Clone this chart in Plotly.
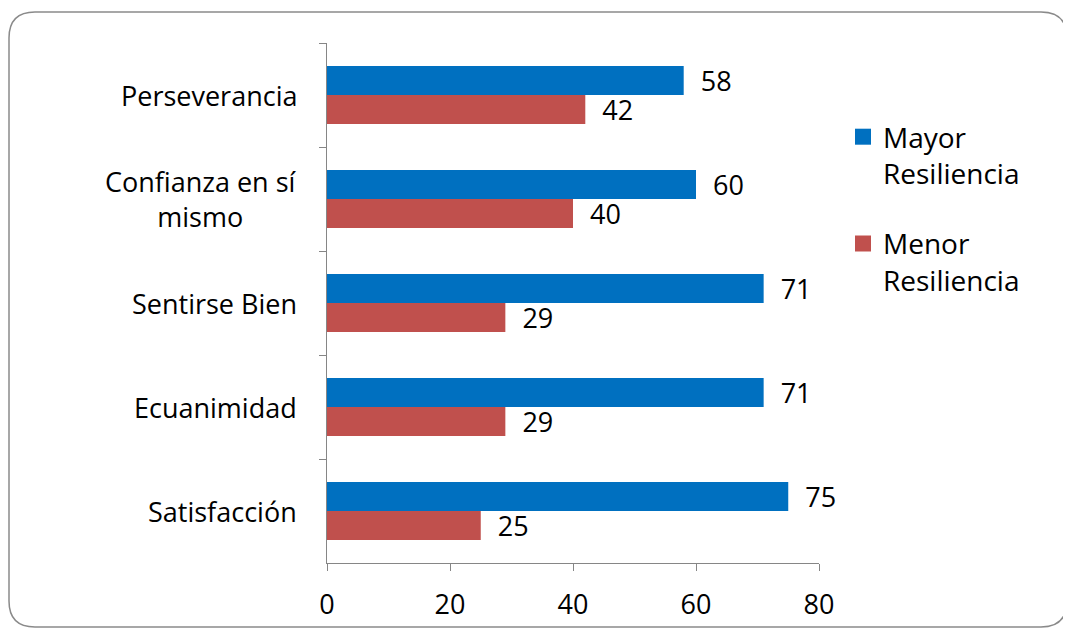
import plotly.graph_objects as go

categories = ["Perseverancia", "Confianza en sí<br>mismo", "Sentirse Bien", "Ecuanimidad", "Satisfacción"]
mayor = [58, 60, 71, 71, 75]
menor = [42, 40, 29, 29, 25]
series_names = ["Mayor<br>Resiliencia", "Menor<br>Resiliencia"]
x_ticks = [0, 20, 40, 60, 80]

BLUE = "#0070C0"
RED = "#C0504D"
FONT = "Open Sans"
FS = 27
# page body has an 8px margin, so the figure is drawn 8px in from the window edge
W, H = 1063, 622
L, R, T, B = 319, 252, 35, 67
PW, PH = W - L - R, H - T - B

fig = go.Figure()
for name, vals, col in [(series_names[0], mayor, BLUE), (series_names[1], menor, RED)]:
    fig.add_trace(go.Bar(
        y=categories, x=vals, name=name, orientation="h",
        marker=dict(color=col, line=dict(width=0)),
        text=vals, texttemplate="\u00a0\u00a0%{x}", textposition="outside",
        textfont=dict(family=FONT, size=FS, color="black"),
        constraintext="none", cliponaxis=False, showlegend=False,
    ))
# legend entries with larger square swatches
for name, col in [(series_names[0], BLUE), (series_names[1], RED)]:
    fig.add_trace(go.Scatter(
        x=[None], y=[None], mode="markers", name=name, legendgroup=name,
        marker=dict(symbol="square", size=17, color=col),
    ))

def px(x):
    return (x - L) / PW

def py(y):
    return (H - B - y) / PH

# rounded border
x0, x1, y0, y1, r = 1, 1059, 4, 619, 26
path = (f"M {px(x0 + r)},{py(y0)} L {px(x1 - r)},{py(y0)} Q {px(x1)},{py(y0)} {px(x1)},{py(y0 + r)} "
        f"L {px(x1)},{py(y1 - r)} Q {px(x1)},{py(y1)} {px(x1 - r)},{py(y1)} "
        f"L {px(x0 + r)},{py(y1)} Q {px(x0)},{py(y1)} {px(x0)},{py(y1 - r)} "
        f"L {px(x0)},{py(y0 + r)} Q {px(x0)},{py(y0)} {px(x0 + r)},{py(y0)} Z")
fig.add_shape(type="path", path=path, xref="paper", yref="paper",
              line=dict(color="#8a8a8a", width=1.5), layer="below")

# category labels (centered multi-line)
for c in categories:
    fig.add_annotation(x=0, xref="paper", y=c, yref="y", text=c, showarrow=False,
                       xanchor="right", xshift=-28, align="center",
                       font=dict(family=FONT, size=FS, color="black"))

fig.update_layout(
    width=W, height=H,
    margin=dict(l=L, r=R, t=T, b=B, autoexpand=False),
    paper_bgcolor="white", plot_bgcolor="white",
    barmode="group", bargap=0.44, bargroupgap=0,
    font=dict(family=FONT, size=FS, color="black"),
    legend=dict(x=px(835), xanchor="left", y=py(104), yanchor="top",
                font=dict(family=FONT, size=FS + 1), tracegroupgap=31,
                valign="top", bgcolor="rgba(0,0,0,0)"),
    xaxis=dict(range=[0, 80], tickvals=x_ticks, showgrid=False, zeroline=False,
               showline=True, linecolor="#868686", linewidth=1.3,
               ticks="outside", ticklen=7, tickcolor="#868686",
               tickfont=dict(family=FONT, size=FS), ticklabelstandoff=10),
    yaxis=dict(autorange="reversed", showgrid=False, zeroline=False,
               showline=True, linecolor="#868686", linewidth=1.3,
               ticks="outside", ticklen=7, tickcolor="#868686",
               tickson="boundaries", showticklabels=False),
)

fig.write_html("out.html")
